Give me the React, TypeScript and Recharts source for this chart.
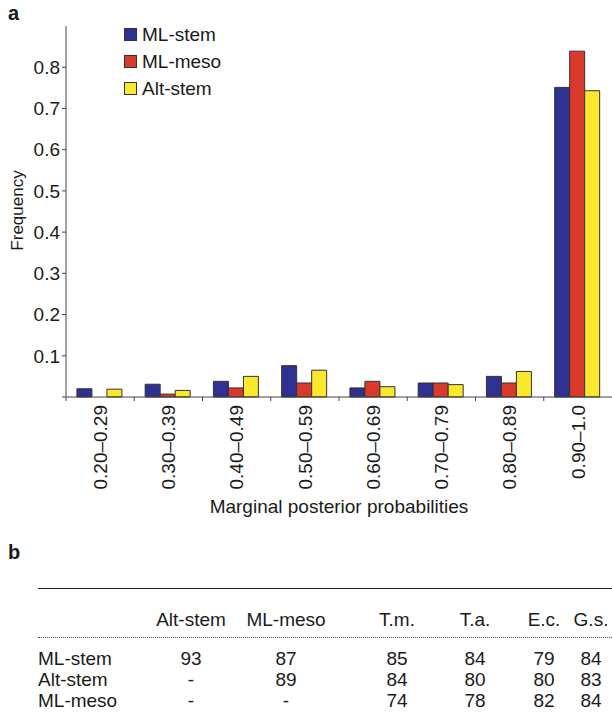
import React from 'react';
import { BarChart, Bar, XAxis, YAxis, Label } from 'recharts';

const categories = ['0.20–0.29', '0.30–0.39', '0.40–0.49', '0.50–0.59', '0.60–0.69', '0.70–0.79', '0.80–0.89', '0.90–1.0'];
const mlStem = [0.02, 0.031, 0.038, 0.076, 0.022, 0.034, 0.05, 0.751];
const mlMeso = [0, 0.007, 0.022, 0.034, 0.038, 0.034, 0.034, 0.839];
const altStem = [0.019, 0.016, 0.05, 0.065, 0.025, 0.03, 0.062, 0.743];
const yTicks = [0, 0.1, 0.2, 0.3, 0.4, 0.5, 0.6, 0.7, 0.8];

const tableCols = ['Alt-stem', 'ML-meso', 'T.m.', 'T.a.', 'E.c.', 'G.s.'];
const tableRows = ['ML-stem', 'Alt-stem', 'ML-meso'];
const tableValues = [
  ['93', '87', '85', '84', '79', '84'],
  ['-', '89', '84', '80', '80', '83'],
  ['-', '-', '74', '78', '82', '84'],
];

const series = [
  { key: 'mlStem', name: 'ML-stem', color: '#2e3192' },
  { key: 'mlMeso', name: 'ML-meso', color: '#d93a2b' },
  { key: 'altStem', name: 'Alt-stem', color: '#f9e82c' },
];

const data = categories.map((c, i) => ({
  range: c,
  mlStem: mlStem[i],
  mlMeso: mlMeso[i],
  altStem: altStem[i],
}));

const FONT = '"Liberation Sans", Arial, Helvetica, sans-serif';
const INK = '#1a1a1a';
const FS = 19;

const XTick = (props: any) => {
  const { x, y, payload } = props;
  const half = payload && payload.offset ? payload.offset : 34;
  return (
    <g>
      <line x1={x - half} x2={x - half} y1={y} y2={y + 4} stroke="#444" />
      <text
        x={x}
        y={y + 8}
        transform={`rotate(-90, ${x}, ${y + 8})`}
        textAnchor="end"
        dy="0.35em"
        fontSize={FS}
        fill={INK}
        fontFamily={FONT}
      >
        {payload.value}
      </text>
    </g>
  );
};

const LegendBox = () => (
  <div style={{ position: 'absolute', left: 124, top: 21, fontFamily: FONT, fontSize: FS, color: INK }}>
    {series.map((s) => (
      <div key={s.key} style={{ display: 'flex', alignItems: 'center', height: 27 }}>
        <span
          style={{
            display: 'inline-block',
            width: 11,
            height: 11,
            background: s.color,
            border: '1px solid #333',
            marginRight: 5,
          }}
        />
        {s.name}
      </div>
    ))}
  </div>
);

const colCenters = [191, 286, 397, 475, 544, 591];
const rowY = [659, 680, 701];

const App = () => {
  return (
    <div style={{ position: 'absolute', left: 0, top: 0, width: 612, height: 721, background: '#fff', fontFamily: FONT, color: INK }}>
      <div style={{ position: 'absolute', left: 8, top: 2, fontSize: 20, fontWeight: 'bold' }}>a</div>
      <BarChart
        width={612}
        height={540}
        data={data}
        margin={{ top: 26, right: 0, left: 0, bottom: 0 }}
        barCategoryGap="16%"
        barGap={0}
      >
        <XAxis
          dataKey="range"
          height={143}
          interval={0}
          tickLine={false}
          tickSize={0}
          tickMargin={0}
          stroke="#444"
          tick={<XTick />}
        >
          <Label
            value="Marginal posterior probabilities"
            position="insideBottom"
            offset={27}
            style={{ fontSize: FS, fill: INK, fontFamily: FONT }}
          />
        </XAxis>
        <YAxis
          width={66}
          domain={[0, 0.9]}
          ticks={yTicks}
          tickSize={4}
          tickMargin={2}
          stroke="#444"
          tickFormatter={(v: number) => (v === 0 ? '' : v.toFixed(1))}
          tick={{ fontSize: FS, fill: INK, fontFamily: FONT }}
        >
          <Label
            content={(p: any) => {
              const vb = p.viewBox || { x: 0, y: 26, width: 66, height: 371 };
              const cx = vb.x + 17;
              const cy = vb.y + vb.height / 2 - 1;
              return (
                <text
                  x={cx}
                  y={cy}
                  transform={`rotate(-90, ${cx}, ${cy})`}
                  textAnchor="middle"
                  dy="0.35em"
                  fontSize={17}
                  fill={INK}
                  fontFamily={FONT}
                >
                  Frequency
                </text>
              );
            }}
          />
        </YAxis>
        {series.map((s) => (
          <Bar
            key={s.key}
            dataKey={s.key}
            name={s.name}
            fill={s.color}
            stroke="#333"
            strokeWidth={1}
            isAnimationActive={false}
          />
        ))}
      </BarChart>
      <LegendBox />

      <div style={{ position: 'absolute', left: 8, top: 541, fontSize: 20, fontWeight: 'bold' }}>b</div>
      <div style={{ position: 'absolute', left: 38, right: 0, top: 588, borderTop: '1px solid #222' }} />
      <div style={{ position: 'absolute', left: 38, right: 0, top: 637, borderTop: '1px dotted #555' }} />
      {tableCols.map((c, j) => (
        <div
          key={c}
          style={{ position: 'absolute', left: colCenters[j] - 50, width: 100, top: 620 - 11, textAlign: 'center', fontSize: FS, lineHeight: '22px' }}
        >
          {c}
        </div>
      ))}
      {tableRows.map((r, i) => (
        <React.Fragment key={r + i}>
          <div style={{ position: 'absolute', left: 38, top: rowY[i] - 11, fontSize: FS, lineHeight: '22px' }}>{r}</div>
          {tableValues[i].map((v, j) => (
            <div
              key={j}
              style={{ position: 'absolute', left: colCenters[j] - 50, width: 100, top: rowY[i] - 11, textAlign: 'center', fontSize: FS, lineHeight: '22px' }}
            >
              {v}
            </div>
          ))}
        </React.Fragment>
      ))}
    </div>
  );
};

export default App;
